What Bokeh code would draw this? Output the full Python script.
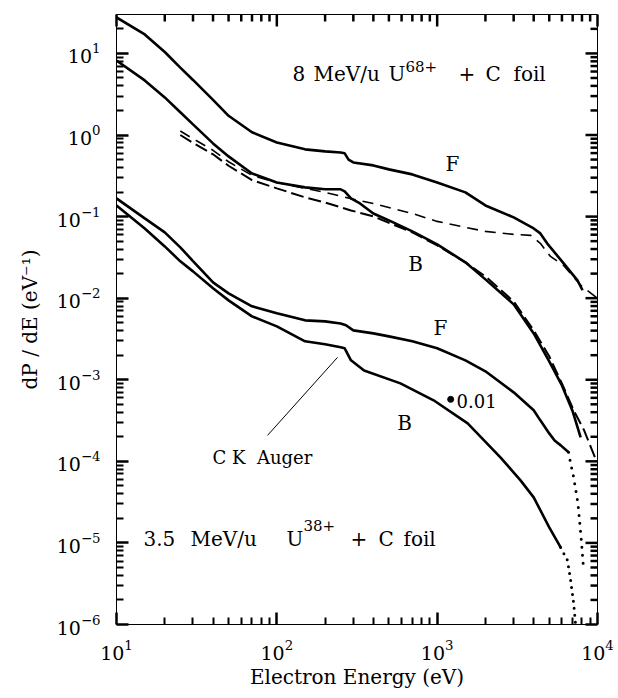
import math
from bokeh.plotting import figure
from bokeh.models import FixedTicker, Label, Range1d
from bokeh.embed import file_html
from bokeh.resources import INLINE

# ---------------- data (electron energy in eV, dP/dE in 1/eV) ----------------
# 8 MeV/u U68+ + C foil, forward (F) spectrum
e8_f = [10, 15, 20, 25, 30, 40, 50, 70, 100, 150, 200, 250, 265, 280, 300, 400, 500,
        700, 1000, 1500, 2000, 3000, 4000, 4400, 4850, 6150, 7500, 8070]
dp8_f = [27.6, 17.1, 10.4, 6.7, 4.73, 2.69, 1.72, 1.08, 0.81, 0.667, 0.63, 0.61, 0.596,
         0.50, 0.461, 0.424, 0.379, 0.329, 0.262, 0.198, 0.137, 0.0977, 0.0716, 0.0622,
         0.047, 0.0267, 0.0165, 0.0125]
# 8 MeV/u, backward (B) spectrum
e8_b = [10, 15, 20, 25, 30, 40, 50, 70, 100, 150, 200, 250, 265, 290, 330, 400, 500,
        700, 1000, 1500, 2000, 3000, 4000, 5000, 6000, 7000, 7850]
dp8_b = [8.2, 4.67, 2.89, 1.9, 1.35, 0.789, 0.547, 0.338, 0.262, 0.228, 0.216, 0.216,
         0.204, 0.167, 0.145, 0.109, 0.0897, 0.0659, 0.0456, 0.0275, 0.0170, 0.0084,
         0.0037, 0.00168, 0.000853, 0.00041, 0.000197]
# 8 MeV/u, calculated curve (long dashes)
e8_ta = [25, 30, 40, 50, 70, 100, 150, 200, 300, 400, 700, 1000, 1500, 2000, 3000,
         3830, 4400, 5090, 6150, 7850, 10000]
dp8_ta = [1.12, 0.90, 0.65, 0.47, 0.32, 0.262, 0.222, 0.198, 0.163, 0.145, 0.109,
          0.0873, 0.0738, 0.0659, 0.0605, 0.0589, 0.047, 0.0325, 0.0252, 0.0144, 0.00995]
# 8 MeV/u, calculated curve (short dashes)
e8_tc = [25, 30, 40, 50, 70, 100, 150, 200, 290, 400, 700, 1000, 1500, 2000, 3000,
         4000, 5000, 6000, 7100, 8250, 9800]
dp8_tc = [1.0, 0.80, 0.58, 0.42, 0.28, 0.222, 0.172, 0.149, 0.119, 0.1005, 0.064,
          0.0443, 0.0275, 0.0185, 0.00914, 0.00403, 0.00194, 0.0009, 0.000422, 0.00024,
          0.000103]
# 3.5 MeV/u U38+ + C foil (scaled by 0.01), forward (F)
e35_f = [10, 15, 20, 25, 30, 40, 50, 70, 100, 150, 200, 250, 270, 300, 400, 500, 700,
         1000, 1500, 2000, 3000, 4000, 4400, 5000, 5400, 5900, 6600]
dp35_f = [0.167, 0.095, 0.064, 0.042, 0.0285, 0.0156, 0.01146, 0.00794, 0.00652,
          0.00535, 0.0052, 0.0049, 0.00465, 0.00403, 0.0037, 0.0034, 0.00296, 0.00243,
          0.00173, 0.00127, 0.000701, 0.000422, 0.000318, 0.00022, 0.00018, 0.000157,
          0.000129]
e35_f_dots = [6600, 6800, 7100, 7550, 7900, 8200]
dp35_f_dots = [0.000129, 9.44e-5, 6.37e-5, 3.06e-5, 1.17e-5, 4.6e-6]
# 3.5 MeV/u, backward (B)
e35_b = [10, 15, 20, 25, 30, 40, 50, 70, 100, 150, 200, 250, 265, 290, 350, 590, 950,
         1550, 2480, 3310, 4000, 5000, 5890]
dp35_b = [0.137, 0.0716, 0.0431, 0.0283, 0.0213, 0.0132, 0.0094, 0.00598, 0.00451,
          0.00296, 0.00272, 0.0025, 0.00243, 0.00173, 0.0013, 0.000903, 0.00056,
          0.000292, 0.000112, 5.85e-5, 3.62e-5, 1.55e-5, 8.8e-6]
e35_b_dots = [5890, 6500, 6800, 7100, 7300]
dp35_b_dots = [8.8e-6, 6.1e-6, 3.48e-6, 1.82e-6, 1.0e-6]

x_major = [10, 100, 1000, 10000]
y_major = [1e-6, 1e-5, 1e-4, 1e-3, 1e-2, 1e-1, 1, 10]
x_minor = [k * 10 ** n for n in range(1, 4) for k in range(2, 10)]
y_minor = [k * 10.0 ** n for n in range(-6, 2) for k in range(2, 10) if k * 10.0 ** n < 30]

# annotation: C K Auger pointer, and the "x 0.01" marker
auger_x = [87.5, 239]
auger_y = [2.08e-4, 1.88e-3]
scale_mark_x = [1214]
scale_mark_y = [5.75e-4]

FONT = "DejaVu Serif"
W, H = 618, 698
BL, BR, BT, BB = 116, 21, 14, 74
XMIN, XMAX, YMIN, YMAX = 10, 1e4, 1e-6, 30

p = figure(width=W, height=H, x_axis_type="log", y_axis_type="log",
           x_range=Range1d(XMIN, XMAX), y_range=Range1d(YMIN, YMAX),
           output_backend="svg", toolbar_location=None,
           min_border_left=BL, min_border_right=BR, min_border_top=BT,
           min_border_bottom=BB)
p.xgrid.grid_line_alpha = 0
p.ygrid.grid_line_alpha = 0
p.outline_line_color = "black"

FW = W - BL - BR
FH = H - BT - BB
PPD_X = FW / math.log10(XMAX / XMIN)
PPD_Y = FH / math.log10(YMAX / YMIN)


def px2x(px):
    return XMIN * 10 ** ((px - BL) / PPD_X)


def py2y(py):
    return YMAX / 10 ** ((py - BT) / PPD_Y)


for ax, major, minor in [(p.xaxis[0], x_major, x_minor), (p.yaxis[0], y_major, y_minor)]:
    ax.ticker = FixedTicker(ticks=major, minor_ticks=minor)
    ax.major_tick_in = 12
    ax.major_tick_out = 0
    ax.minor_tick_in = 7
    ax.minor_tick_out = 0
    ax.major_tick_line_width = 2.5
    ax.minor_tick_line_width = 2
    ax.major_tick_line_color = "black"
    ax.minor_tick_line_color = "black"
    ax.major_label_text_font = FONT
    ax.major_label_text_font_size = "19px"
    ax.major_label_text_color = "black"
    ax.axis_label_text_font = FONT
    ax.axis_label_text_font_size = "20px"
    ax.axis_label_text_font_style = "normal"
    ax.axis_label_text_color = "black"

xa = p.xaxis[0]
xa.major_label_standoff = 15
xa.axis_label = "Electron Energy (eV)"
xa.axis_label_standoff = 2

ya = p.yaxis[0]
ya.major_label_standoff = 16
ya.axis_label = "dP / dE (eV\u207b\u00b9)"
ya.axis_label_standoff = 12

# inward tick marks on the top and right sides (mirroring the axes), on top of everything
vx, vy, vh = [], [], []
for v in x_major + x_minor:
    length = 12 if v in x_major else 7
    f = 10 ** (length / 2 / PPD_Y)
    vx.append(v)
    vy.append(YMAX / f)
    vh.append(length)
p.rect(x=vx, y=vy, width=2.5, height=vh, width_units="screen", height_units="screen",
       fill_color="black", line_color=None, level="overlay")
hx, hy, hw = [], [], []
for v in y_major + y_minor:
    length = 12 if v in y_major else 7
    f = 10 ** (length / 2 / PPD_X)
    hx.append(XMAX / f)
    hy.append(v)
    hw.append(length)
p.rect(x=hx, y=hy, width=hw, height=2.5, width_units="screen", height_units="screen",
       fill_color="black", line_color=None, level="overlay")

# ---------------- curves ----------------
p.line(e8_f, dp8_f, line_color="black", line_width=2.6)
p.line(e8_b, dp8_b, line_color="black", line_width=2.6)
p.line(e8_ta, dp8_ta, line_color="black", line_width=1.6, line_dash="11 7")
p.line(e8_tc, dp8_tc, line_color="black", line_width=2.0, line_dash="13 5")
p.line(e35_f, dp35_f, line_color="black", line_width=2.6)
p.line(e35_b, dp35_b, line_color="black", line_width=2.6)
p.line(e35_f_dots, dp35_f_dots, line_color="black", line_width=3, line_dash="0 8",
       line_cap="round")
p.line(e35_b_dots, dp35_b_dots, line_color="black", line_width=3, line_dash="0 7",
       line_cap="round")

p.line(auger_x, auger_y, line_color="black", line_width=1)
p.scatter(scale_mark_x, scale_mark_y, size=6, color="black")


def lab(px, py, text, size="20px", align="left", baseline="alphabetic"):
    p.add_layout(Label(x=px2x(px), y=py2y(py), text=text, text_font=FONT,
                       text_font_size=size, text_align=align, text_baseline=baseline,
                       text_color="black"))


for w, x0 in [("8", 292), ("MeV/u", 313), ("U", 388), ("+", 458), ("C", 485), ("foil", 513)]:
    lab(x0, 73, w)
lab(405, 66, "68+", size="15px")
for w, x0 in [("3.5", 143), ("MeV/u", 190), ("U", 286), ("+", 350), ("C", 378), ("foil", 403)]:
    lab(x0, 538, w)
lab(303, 525, "38+", size="15px")

lab(452, 163, "F", align="center", baseline="middle")
lab(415, 263, "B", align="center", baseline="middle")
lab(440, 327, "F", align="center", baseline="middle")
lab(404, 422, "B", align="center", baseline="middle")
lab(456, 400, "0.01", size="18px", baseline="middle")
lab(262, 457, "C\u00a0K\u00a0\u00a0Auger", size="18px", align="center", baseline="middle")

open("out.html", "w").write(file_html(p, INLINE))
